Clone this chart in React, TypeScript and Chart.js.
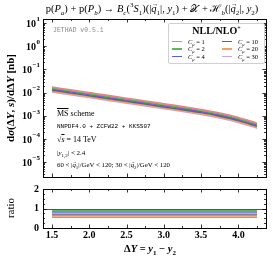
import React, { useEffect, useRef } from "react";
import { Chart, registerables } from "chart.js";

Chart.register(...registerables);

// ---------- data ----------
const DELTA_Y = [1.5, 1.75, 2.0, 2.25, 2.5, 2.75, 3.0, 3.25, 3.5, 3.75, 4.0, 4.25];

const XSEC_C1 = [0.0174, 0.0132, 0.0100, 0.0076, 0.00577, 0.00437, 0.00332, 0.00252, 0.00187, 0.00132, 0.000853, 0.00048];
const XSEC_C2 = [0.0158, 0.0120, 0.00908, 0.00689, 0.00523, 0.00397, 0.00301, 0.00228, 0.0017, 0.00119, 0.000773, 0.000435];
const XSEC_C4 = [0.0144, 0.01095, 0.0083, 0.0063, 0.00478, 0.00363, 0.00275, 0.00209, 0.00155, 0.00109, 0.000707, 0.000398];
const XSEC_C10 = [0.0128, 0.00972, 0.00737, 0.0056, 0.00425, 0.00322, 0.00244, 0.00185, 0.00138, 0.00097, 0.000628, 0.000353];
const XSEC_C20 = [0.0115, 0.0087, 0.0066, 0.005, 0.0038, 0.00288, 0.00218, 0.00166, 0.00123, 0.00087, 0.000562, 0.000316];
const XSEC_C30 = [0.01066, 0.00808, 0.00613, 0.00465, 0.00353, 0.00268, 0.00203, 0.00154, 0.00115, 0.00081, 0.000522, 0.000294];

const RATIO_C1 = [0.55, 0.55, 0.55, 0.55, 0.55, 0.55, 0.55, 0.55, 0.55, 0.55, 0.55, 0.55];
const RATIO_C2 = [0.90, 0.90, 0.90, 0.90, 0.90, 0.90, 0.90, 0.90, 0.90, 0.90, 0.90, 0.90];
const RATIO_C4 = [0.82, 0.82, 0.82, 0.82, 0.82, 0.82, 0.82, 0.82, 0.82, 0.82, 0.82, 0.82];
const RATIO_C10 = [0.67, 0.67, 0.67, 0.67, 0.67, 0.67, 0.67, 0.67, 0.67, 0.67, 0.67, 0.67];
const RATIO_C20 = [0.61, 0.61, 0.61, 0.61, 0.61, 0.61, 0.61, 0.61, 0.61, 0.61, 0.61, 0.61];
const RATIO_C30 = [0.73, 0.73, 0.73, 0.73, 0.73, 0.73, 0.73, 0.73, 0.73, 0.73, 0.73, 0.73];

const C_MU = ["1", "2", "4", "10", "20", "30"];
const COLORS = ["#ef8080", "#5cb85c", "#5a5aee", "#666666", "#f7a060", "#c9a4de"];

const X_MAJOR = [1.5, 2.0, 2.5, 3.0, 3.5, 4.0];
const X_MAJOR_LABELS = ["1.5", "2.0", "2.5", "3.0", "3.5", "4.0"];
const X_MINOR = [1.75, 2.25, 2.75, 3.25, 3.75, 4.25];
const Y_MAIN_EXPONENTS = [-5, -4, -3, -2, -1, 0, 1];
const Y_RATIO_MAJOR = [0, 1, 2];
const Y_RATIO_MINOR = [0.25, 0.5, 0.75, 1.25, 1.5, 1.75];

const X_MIN = 1.38;
const X_MAX = 4.37;
const Y_MIN = 2.3e-6;
const Y_MAX = 15;

const XSEC = [XSEC_C1, XSEC_C2, XSEC_C4, XSEC_C10, XSEC_C20, XSEC_C30];
const RATIO = [RATIO_C1, RATIO_C2, RATIO_C4, RATIO_C10, RATIO_C20, RATIO_C30];

const SERIF = "'Liberation Serif', 'DejaVu Serif', serif";

function drawXTicks(ctx: CanvasRenderingContext2D, chart: any) {
  const a = chart.chartArea;
  const xs = chart.scales.x;
  ctx.strokeStyle = "#000";
  ctx.lineWidth = 0.8;
  const draw = (v: number, len: number) => {
    const px = Math.round(xs.getPixelForValue(v)) + 0.5;
    ctx.beginPath();
    ctx.moveTo(px, a.top);
    ctx.lineTo(px, a.top + len);
    ctx.moveTo(px, a.bottom);
    ctx.lineTo(px, a.bottom - len);
    ctx.stroke();
  };
  X_MAJOR.forEach((v) => draw(v, 3.5));
  X_MINOR.forEach((v) => draw(v, 2));
}

function drawYTick(ctx: CanvasRenderingContext2D, a: any, py: number, len: number) {
  const y = Math.round(py) + 0.5;
  ctx.beginPath();
  ctx.moveTo(a.left, y);
  ctx.lineTo(a.left + len, y);
  ctx.moveTo(a.right, y);
  ctx.lineTo(a.right - len, y);
  ctx.stroke();
}

const mainFrame = {
  id: "mainFrame",
  afterDraw(chart: any) {
    const ctx = chart.ctx as CanvasRenderingContext2D;
    const a = chart.chartArea;
    const ys = chart.scales.y;
    ctx.save();
    ctx.strokeStyle = "#000";
    ctx.lineWidth = 1;
    ctx.strokeRect(Math.round(a.left) + 0.5, Math.round(a.top) + 0.5, Math.round(a.right - a.left), Math.round(a.bottom - a.top));
    drawXTicks(ctx, chart);
    ctx.lineWidth = 0.8;
    for (let k = -6; k <= 1; k++) {
      for (let m = 1; m <= 9; m++) {
        const v = m * Math.pow(10, k);
        if (v < Y_MIN || v > Y_MAX) continue;
        drawYTick(ctx, a, ys.getPixelForValue(v), m === 1 ? 3.5 : 2);
      }
    }
    ctx.fillStyle = "#000";
    ctx.textBaseline = "middle";
    Y_MAIN_EXPONENTS.forEach((e) => {
      const py = ys.getPixelForValue(Math.pow(10, e));
      const exp = e < 0 ? "\u2212" + Math.abs(e) : String(e);
      ctx.font = `bold 7px ${SERIF}`;
      const ew = ctx.measureText(exp).width;
      const right = a.left - 3;
      ctx.textAlign = "right";
      ctx.fillText(exp, right, py - 4);
      ctx.font = `bold 10px ${SERIF}`;
      ctx.fillText("10", right - ew - 0.5, py + 1);
    });
    ctx.restore();
  },
};

const ratioFrame = {
  id: "ratioFrame",
  afterDraw(chart: any) {
    const ctx = chart.ctx as CanvasRenderingContext2D;
    const a = chart.chartArea;
    const ys = chart.scales.y;
    const xs = chart.scales.x;
    ctx.save();
    ctx.strokeStyle = "#555";
    ctx.lineWidth = 1;
    const y1 = Math.round(ys.getPixelForValue(1)) + 0.5;
    ctx.beginPath();
    ctx.moveTo(a.left, y1);
    ctx.lineTo(a.right, y1);
    ctx.stroke();
    ctx.strokeStyle = "#000";
    ctx.strokeRect(Math.round(a.left) + 0.5, Math.round(a.top) + 0.5, Math.round(a.right - a.left), Math.round(a.bottom - a.top));
    drawXTicks(ctx, chart);
    ctx.lineWidth = 0.8;
    Y_RATIO_MAJOR.forEach((v) => drawYTick(ctx, a, ys.getPixelForValue(v), 3.5));
    Y_RATIO_MINOR.forEach((v) => drawYTick(ctx, a, ys.getPixelForValue(v), 2));
    ctx.fillStyle = "#000";
    ctx.font = `bold 10px ${SERIF}`;
    ctx.textAlign = "right";
    ctx.textBaseline = "middle";
    Y_RATIO_MAJOR.forEach((v) => ctx.fillText(String(v), a.left - 4, ys.getPixelForValue(v)));
    ctx.textAlign = "center";
    ctx.textBaseline = "top";
    X_MAJOR.forEach((v, i) => ctx.fillText(X_MAJOR_LABELS[i], xs.getPixelForValue(v), a.bottom + 2));
    ctx.restore();
  },
};

function baseScales(yType: string, yMin: number, yMax: number, xHeight: number) {
  return {
    x: {
      type: "linear",
      min: X_MIN,
      max: X_MAX,
      grid: { display: false },
      border: { display: false },
      ticks: { display: false },
      afterFit: (s: any) => {
        s.height = xHeight;
      },
    },
    y: {
      type: yType,
      min: yMin,
      max: yMax,
      grid: { display: false },
      border: { display: false },
      ticks: { display: false },
      afterFit: (s: any) => {
        s.width = 43;
      },
    },
  };
}

const Vec = ({ c }: { c: string }) => (
  <span style={{ position: "relative", display: "inline-block", lineHeight: 1 }}>
    <i>{c}</i>
    <span
      style={{
        position: "absolute",
        left: "0.08em",
        top: "-0.42em",
        fontSize: "0.62em",
        fontStyle: "normal",
        lineHeight: 1,
      }}
    >
      →
    </span>
  </span>
);

function App() {
  const mainRef = useRef<HTMLCanvasElement>(null);
  const ratioRef = useRef<HTMLCanvasElement>(null);

  useEffect(() => {
    const main = new Chart(mainRef.current as HTMLCanvasElement, {
      type: "line",
      data: {
        datasets: XSEC.map((vals, si) => ({
          label: "C_mu = " + C_MU[si],
          data: DELTA_Y.map((x, i) => ({ x, y: vals[i] })),
          borderColor: COLORS[si],
          borderWidth: 1.6,
          pointRadius: 0,
          fill: false,
          tension: 0.3,
        })),
      },
      options: {
        animation: false,
        responsive: false,
        maintainAspectRatio: false,
        layout: { padding: { top: 19, right: 7, left: 0, bottom: 0 } },
        plugins: { legend: { display: false }, tooltip: { enabled: false } },
        scales: baseScales("logarithmic", Y_MIN, Y_MAX, 3) as any,
      },
      plugins: [mainFrame],
    } as any);

    const ratio = new Chart(ratioRef.current as HTMLCanvasElement, {
      type: "line",
      data: {
        datasets: RATIO.map((vals, si) => ({
          label: "C_mu = " + C_MU[si],
          data: DELTA_Y.map((x, i) => ({ x, y: vals[i] })),
          borderColor: COLORS[si],
          borderWidth: 1.3,
          pointRadius: 0,
          fill: false,
        })),
      },
      options: {
        animation: false,
        responsive: false,
        maintainAspectRatio: false,
        layout: { padding: { top: 9, right: 7, left: 0, bottom: 0 } },
        plugins: { legend: { display: false }, tooltip: { enabled: false } },
        scales: baseScales("linear", 0, 2, 30) as any,
      },
      plugins: [ratioFrame],
    } as any);

    return () => {
      main.destroy();
      ratio.destroy();
    };
  }, []);

  const txt = (left: number, top: number, size: number, content: React.ReactNode, extra: any = {}) => (
    <div
      style={{
        position: "absolute",
        left,
        top,
        fontSize: size,
        lineHeight: 1,
        whiteSpace: "nowrap",
        fontFamily: SERIF,
        transform: "translateY(-50%)",
        ...extra,
      }}
    >
      {content}
    </div>
  );

  const sub = (s: React.ReactNode, size = 7) => <sub style={{ fontSize: size, lineHeight: 0 }}>{s}</sub>;

  const legendRow = (i: number, col: number, row: number) => (
    <div
      key={i}
      style={{ position: "absolute", left: 3 + col * 50, top: 14 + row * 7.5, display: "flex", alignItems: "center", height: 7 }}
    >
      <div style={{ width: 10, height: 1.5, background: COLORS[i], marginRight: 6 }} />
      <span style={{ fontSize: 6.5, fontFamily: SERIF }}>
        <i>C</i>
        {sub(<i>μ</i>, 4.5)} = {C_MU[i]}
      </span>
    </div>
  );

  return (
    <div style={{ position: "fixed", left: 0, top: 0, width: 273, height: 258, background: "#fff", overflow: "hidden" }}>
      <canvas ref={mainRef} width={273} height={180} style={{ position: "absolute", left: 0, top: 0 }} />
      <canvas ref={ratioRef} width={273} height={78} style={{ position: "absolute", left: 0, top: 180 }} />

      {/* title */}
      {txt(
        152,
        9,
        10.5,
        <span>
          p(<i>P</i>{sub(<i>a</i>)}) + p(<i>P</i>{sub(<i>b</i>)}) → <i>B</i>{sub(<i>c</i>)}(<sup style={{ fontSize: 7, lineHeight: 0 }}>3</sup><i>S</i>{sub("1")})(|<Vec c="q" />{sub("1")}|, <i>y</i>{sub("1")}) + <span style={{ fontSize: 9.5 }}>𝒳</span> + ℋ{sub(<i>b</i>)}(|<Vec c="q" />{sub("2")}|, <i>y</i>{sub("2")})
        </span>,
        { transform: "translate(-50%, -50%)" }
      )}

      {/* y titles */}
      {txt(
        10,
        98,
        11,
        <span style={{ fontWeight: "bold" }}>
          d<i>σ</i>(Δ<i>Y</i>, <i>s</i>)/dΔ<i>Y</i> [nb]
        </span>,
        { transform: "translate(-50%, -50%) rotate(-90deg)" }
      )}
      {txt(10, 208, 11, <span>ratio</span>, { transform: "translate(-50%, -50%) rotate(-90deg)" })}

      {/* x title */}
      {txt(
        150,
        249,
        10.5,
        <span style={{ fontWeight: "bold" }}>
          Δ<i>Y</i> = <i>y</i>{sub("1")} − <i>y</i>{sub("2")}
        </span>,
        { transform: "translate(-50%, -50%)" }
      )}

      {/* annotations */}
      {txt(53, 31, 6.5, "JETHAD v0.5.1", { fontFamily: "'Liberation Mono', 'DejaVu Sans Mono', monospace", color: "#888" })}
      {txt(57, 114, 8, <span><span style={{ textDecoration: "overline" }}>MS</span> scheme</span>)}
      {txt(57, 127, 6, "NNPDF4.0 + ZCFW22 + KKSS07", { fontFamily: "'Liberation Mono', 'DejaVu Sans Mono', monospace" })}
      {txt(57, 140, 8, <span>√<span style={{ textDecoration: "overline" }}><i>s</i></span> = 14 TeV</span>)}
      {txt(57, 153, 7, <span>|<i>y</i>{sub("1,2", 5)}| &lt; 2.4</span>)}
      {txt(
        57,
        165,
        6.8,
        <span>
          60 &lt; |<Vec c="q" />{sub("1", 5)}|/GeV &lt; 120; 30 &lt; |<Vec c="q" />{sub("2", 5)}|/GeV &lt; 120
        </span>
      )}

      {/* legend */}
      <div
        style={{
          position: "absolute",
          left: 168,
          top: 23,
          width: 97,
          height: 41,
          background: "#fff",
          border: "1px solid #d0d0d0",
          borderRadius: 2,
          boxSizing: "border-box",
        }}
      >
        <div style={{ position: "absolute", left: 0, right: 0, top: 1, textAlign: "center", fontFamily: SERIF, fontWeight: "bold", fontSize: 10 }}>
          NLL/NLO<sup style={{ fontSize: 6, lineHeight: 0 }}>+</sup>
        </div>
        {legendRow(0, 0, 0)}
        {legendRow(1, 0, 1)}
        {legendRow(2, 0, 2)}
        {legendRow(3, 1, 0)}
        {legendRow(4, 1, 1)}
        {legendRow(5, 1, 2)}
      </div>
    </div>
  );
}

export default App;
